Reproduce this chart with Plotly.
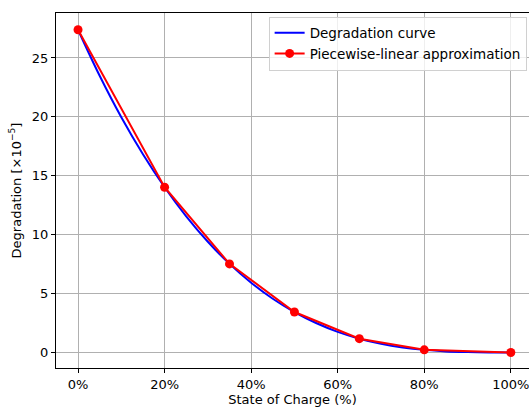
import plotly.graph_objects as go

# Smooth degradation curve
curve_soc = [0, 5, 10, 15, 20, 25, 30, 35, 40, 45, 50, 55, 60, 65, 70, 75, 80, 85, 90, 95, 100]
curve_deg = [27.4, 23.49, 19.97, 16.83, 14.03, 11.56, 9.40, 7.52, 5.92, 4.56, 3.43,
             2.50, 1.75, 1.17, 0.74, 0.43, 0.22, 0.09, 0.03, 0.00, 0.0]

# Piecewise-linear breakpoints
pw_soc = [0, 20, 35, 50, 65, 80, 100]
pw_deg = [27.4, 14.03, 7.52, 3.43, 1.17, 0.22, 0.0]

x_ticks = [0, 20, 40, 60, 80, 100]
y_ticks = [0, 5, 10, 15, 20, 25]

FONT = "DejaVu Sans"

fig = go.Figure()
fig.add_trace(go.Scatter(x=curve_soc, y=curve_deg, mode="lines", name="Degradation curve",
                         line=dict(color="blue", width=2), line_shape="spline"))
fig.add_trace(go.Scatter(x=pw_soc, y=pw_deg, mode="lines+markers", name="Piecewise-linear approximation",
                         line=dict(color="red", width=2), marker=dict(color="red", size=9)))

axis_common = dict(showline=True, linecolor="black", linewidth=1, ticks="outside", ticklen=4,
                   tickcolor="black", tickwidth=1, showgrid=True, gridcolor="#b0b0b0", gridwidth=1,
                   zeroline=False, tickfont=dict(family=FONT, size=13, color="black"),
                   ticklabeloverflow="allow")

fig.update_layout(
    width=529, height=407,
    margin=dict(l=56, r=0, t=13, b=39),
    paper_bgcolor="white", plot_bgcolor="white",
    font=dict(family=FONT, size=13, color="black"),
    showlegend=True,
    legend=dict(x=0.995, y=0.99, xanchor="right", yanchor="top",
                bgcolor="rgba(255,255,255,0.8)", bordercolor="#d0d0d0", borderwidth=1,
                font=dict(family=FONT, size=13.5), tracegroupgap=0, itemwidth=30),
    xaxis=dict(range=[-5.09, 104.2], tickvals=x_ticks, ticktext=[f"{v}%" for v in x_ticks],
               mirror=True, automargin=False,
               title=dict(text="State of Charge (%)", standoff=14, font=dict(family=FONT, size=13)),
               **axis_common),
    yaxis=dict(range=[-1.32, 28.82], tickvals=y_ticks, mirror=False, automargin=False,
               title=dict(text="Degradation [×10<sup>−5</sup>]", standoff=7, font=dict(family=FONT, size=13)),
               **axis_common),
)

fig.write_html("out.html", config={"displayModeBar": False},
               post_script="document.body.style.margin='0';document.body.style.overflow='hidden';")
